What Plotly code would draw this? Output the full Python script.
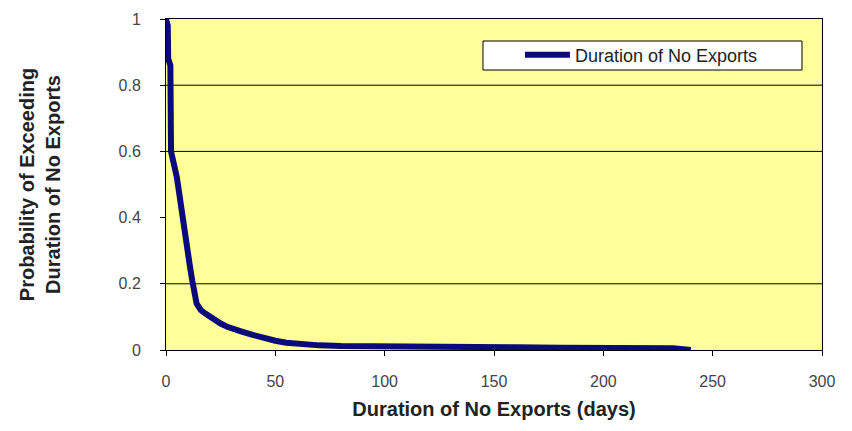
import plotly.graph_objects as go

# Data (exceedance curve)
days = [0, 0.8, 1.0, 2.0, 2.3, 3.0, 4.0, 5.0, 6.0, 7.0, 8.0, 9.0, 10.0, 11.0, 12.0,
        13.0, 14.0, 15.0, 16.0, 18.0, 20.0, 22.0, 25.0, 28.0, 30.0, 35.0, 40.0,
        45.0, 50.0, 55.0, 60.0, 70.0, 80.0, 90.0, 100.0, 120.0, 140.0, 160.0,
        180.0, 200.0, 220.0, 232.0, 240.0]
prob = [1.0, 0.98, 0.88, 0.86, 0.60, 0.57, 0.55, 0.52, 0.47, 0.42, 0.38, 0.33,
        0.29, 0.25, 0.21, 0.17, 0.14, 0.13, 0.12, 0.11, 0.10, 0.09, 0.08, 0.07,
        0.065, 0.055, 0.045, 0.035, 0.028, 0.022, 0.018, 0.014, 0.012, 0.011,
        0.010, 0.009, 0.008, 0.008, 0.007, 0.007, 0.006, 0.005, 0.0]
grid_levels = [0.2, 0.6, 0.8]
series_name = "Duration of No Exports"
x_ticks = [0, 50, 100, 150, 200, 250, 300]
y_ticks = [0, 0.2, 0.4, 0.6, 0.8, 1]
y_tick_text = ["0", "0.2", "0.4", "0.6", "0.8", "1"]

fig = go.Figure()
fig.add_trace(go.Scatter(x=days, y=prob, mode="lines", name=series_name,
                         line=dict(color="#0a0a7a", width=6)))

shapes = []
for g in grid_levels:
    shapes.append(dict(type="line", xref="paper", yref="y", x0=0, x1=1, y0=g, y1=g,
                       line=dict(color="black", width=1), layer="below"))
# legend box
shapes.append(dict(type="rect", xref="paper", yref="paper",
                   x0=0.4832, x1=0.9695, y0=0.8459, y1=0.9335,
                   fillcolor="white", line=dict(color="black", width=1), layer="above"))

font_main = "Liberation Sans, Arial, sans-serif"
fig.update_layout(
    width=852, height=431,
    margin=dict(l=166, r=30, t=19, b=81),
    paper_bgcolor="white",
    plot_bgcolor="#FFFF99",
    shapes=shapes,
    showlegend=True,
    legend=dict(x=0.5396, y=0.891, xanchor="left", yanchor="middle",
                bgcolor="rgba(0,0,0,0)", borderwidth=0,
                font=dict(family=font_main, size=18, color="#222"),
                itemwidth=45),
    font=dict(family=font_main, size=16, color="#333"),
    xaxis=dict(range=[0, 300], tickvals=x_ticks, showgrid=False, zeroline=False,
               showline=True, linecolor="black", linewidth=1, mirror=True,
               ticks="outside", ticklen=5, tickcolor="black",
               ticklabelstandoff=12,
               tickfont=dict(size=16, color="#444"),
               title=dict(text="<b>Duration of No Exports (days)</b>", standoff=12,
                          font=dict(size=20, color="#222"))),
    yaxis=dict(range=[0, 1], tickvals=y_ticks, ticktext=y_tick_text, showgrid=False,
               zeroline=False, showline=True, linecolor="black", linewidth=1,
               mirror=True, ticks="outside", ticklen=5, tickcolor="black",
               ticklabelstandoff=16,
               tickfont=dict(size=16, color="#444"),
               title=dict(text="<b>Probability of Exceeding<br>Duration of No Exports</b>",
                          standoff=52, font=dict(size=20, color="#222"))),
)

fig.write_html("out.html")
